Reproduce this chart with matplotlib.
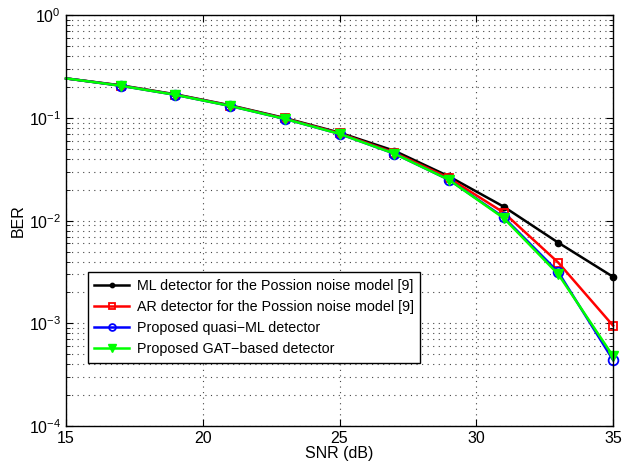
import numpy as np
import matplotlib
matplotlib.use('Agg')
import matplotlib.pyplot as plt
from matplotlib.ticker import LogLocator, NullFormatter

plt.rcParams['font.family'] = ['Liberation Sans', 'DejaVu Sans']
plt.rcParams['mathtext.fontset'] = 'custom'
plt.rcParams['mathtext.rm'] = 'Liberation Sans'

snr = [15, 17, 19, 21, 23, 25, 27, 29, 31, 33, 35]
ber_ml = [0.243, 0.208, 0.170, 0.133, 0.100, 0.072, 0.048, 0.027, 0.0137, 0.0061, 0.00284]
ber_ar = [0.243, 0.207, 0.169, 0.132, 0.099, 0.071, 0.046, 0.026, 0.0120, 0.0039, 0.00095]
ber_qml = [0.243, 0.206, 0.168, 0.131, 0.098, 0.070, 0.045, 0.025, 0.0108, 0.00315, 0.00044]
ber_gat = [0.243, 0.206, 0.168, 0.131, 0.098, 0.070, 0.045, 0.025, 0.0106, 0.0030, 0.00048]

labels = ['ML detector for the Possion noise model [9]',
          'AR detector for the Possion noise model [9]',
          'Proposed quasi\u2212ML detector',
          'Proposed GAT\u2212based detector']

fig = plt.figure(figsize=(6.23, 4.71), dpi=100)
ax = fig.add_axes([0.106, 0.0955, 0.878, 0.872])

# markers start at 17 dB, the 15 dB point only carries the line
mk = slice(1, None)
ax.semilogy(snr, ber_ml, '-', color='black', marker='o', ms=4.5, lw=1.8,
            markevery=mk, clip_on=False, label=labels[0])
ax.semilogy(snr, ber_ar, '-', color='red', marker='s', ms=6, mfc='none', mew=1.3, lw=1.8,
            markevery=mk, clip_on=False, label=labels[1])
ax.semilogy(snr, ber_qml, '-', color='blue', marker='o', ms=7, mfc='none', mew=1.3, lw=1.8,
            markevery=mk, clip_on=False, label=labels[2])
ax.semilogy(snr, ber_gat, '-', color='#00ff00', marker='v', ms=7.5, lw=1.8,
            markevery=mk, clip_on=False, label=labels[3])

ax.set_xlim(15, 35)
ax.set_ylim(1e-4, 1)
ax.set_xticks([15, 20, 25, 30, 35])
ax.yaxis.set_minor_locator(LogLocator(base=10, subs=np.arange(2, 10)))
ax.yaxis.set_minor_formatter(NullFormatter())
grid_style = dict(linestyle=(0, (1, 4)), color='#444444', lw=0.8)
ax.grid(True, which='major', **grid_style)
ax.grid(True, which='minor', axis='y', **grid_style)
ax.tick_params(which='both', direction='in', top=True, right=True, labelsize=11.5)
ax.tick_params(which='major', length=5)
ax.tick_params(which='minor', length=3)
for s in ax.spines.values():
    s.set_linewidth(1.0)

ax.set_xlabel('SNR (dB)', fontsize=11.5, labelpad=0)
ax.set_ylabel('BER', fontsize=11.5, labelpad=2)

leg = ax.legend(loc='lower left', bbox_to_anchor=(0.040, 0.154), fontsize=10.3,
                fancybox=False, edgecolor='black', framealpha=1,
                handlelength=2.4, borderpad=0.45, labelspacing=0.5, handletextpad=0.55,
                borderaxespad=0, markerscale=0.7)
leg.get_frame().set_linewidth(1.0)

fig.savefig('out.png', dpi=100)
